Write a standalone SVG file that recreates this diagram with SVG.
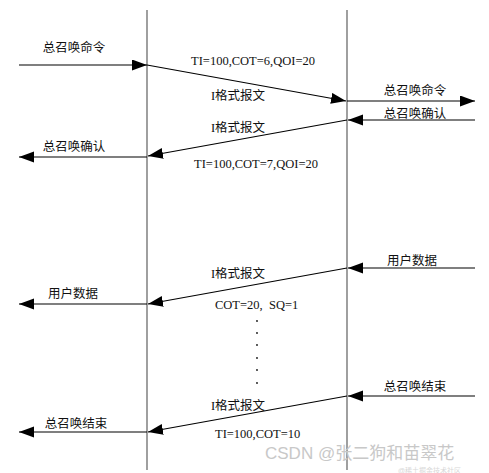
<svg xmlns="http://www.w3.org/2000/svg" width="489" height="473" viewBox="0 0 489 473">
<defs>
<marker id="ah" markerUnits="userSpaceOnUse" markerWidth="16" markerHeight="12" refX="15" refY="5.5" orient="auto">
<path d="M0,0 L15,5.5 L0,11 Z" fill="#000"/>
</marker>
<style>
.lane{stroke:#888;stroke-width:1.6;fill:none}
.msg{stroke:#000;stroke-width:1.1;fill:none;marker-end:url(#ah)}
.t{font-family:"Liberation Serif","Noto Sans CJK SC",serif;font-size:12.5px;fill:#111}
.c{text-anchor:middle}
.dot{fill:#111}
.wm{font-family:"Liberation Sans","Noto Sans CJK SC",sans-serif;font-size:17px;fill:#c8c8c8}
</style>
</defs>
<rect width="489" height="473" fill="#fff"/>
<g id="lanes">
<line class="lane" x1="147" y1="10" x2="147" y2="470"/>
<line class="lane" x1="347" y1="10" x2="347" y2="470"/>
</g>
<g id="connectors">
<line class="msg" x1="19" y1="65" x2="147" y2="65"/>
<line class="msg" x1="147" y1="65" x2="346" y2="101"/>
<line class="msg" x1="347" y1="101" x2="475" y2="101"/>
<line class="msg" x1="475" y1="120" x2="348" y2="120"/>
<line class="msg" x1="347" y1="120" x2="148" y2="156"/>
<line class="msg" x1="147" y1="157" x2="19" y2="157"/>
<line class="msg" x1="475" y1="268" x2="348" y2="268"/>
<line class="msg" x1="347" y1="268" x2="148" y2="304"/>
<line class="msg" x1="147" y1="304" x2="19" y2="304"/>
<line class="msg" x1="475" y1="396" x2="348" y2="396"/>
<line class="msg" x1="347" y1="396" x2="148" y2="432"/>
<line class="msg" x1="147" y1="432" x2="19" y2="432"/>
</g>
<g id="n1"><text class="t c" x="74" y="52">总召唤命令</text></g>
<g id="n2"><text class="t c" x="253" y="64.5">TI=100,COT=6,QOI=20</text></g>
<g id="n3"><text class="t c" x="238" y="99.5">I格式报文</text></g>
<g id="n4"><text class="t c" x="415" y="94.5">总召唤命令</text></g>
<g id="n5"><text class="t c" x="415" y="117.5">总召唤确认</text></g>
<g id="n6"><text class="t c" x="238" y="131.5">I格式报文</text></g>
<g id="n7"><text class="t c" x="74" y="150.5">总召唤确认</text></g>
<g id="n8"><text class="t c" x="256" y="167.5">TI=100,COT=7,QOI=20</text></g>
<g id="n9"><text class="t c" x="412" y="264.5">用户数据</text></g>
<g id="n10"><text class="t c" x="238" y="277.5">I格式报文</text></g>
<g id="n11"><text class="t c" x="73" y="297.5">用户数据</text></g>
<g id="n12"><text class="t" x="215" y="308.5" xml:space="preserve">COT=20,  SQ=1</text></g>
<g id="dots">
<circle class="dot" cx="257" cy="321" r="0.9"/>
<circle class="dot" cx="257" cy="333" r="0.9"/>
<circle class="dot" cx="257" cy="345" r="0.9"/>
<circle class="dot" cx="257" cy="358" r="0.9"/>
<circle class="dot" cx="257" cy="370" r="0.9"/>
<circle class="dot" cx="257" cy="383" r="0.9"/>
</g>
<g id="n13"><text class="t c" x="415" y="390.5">总召唤结束</text></g>
<g id="n14"><text class="t c" x="238" y="409.5">I格式报文</text></g>
<g id="n15"><text class="t c" x="76" y="427.5">总召唤结束</text></g>
<g id="n16"><text class="t" x="215" y="437.5">TI=100,COT=10</text></g>
<g id="watermark">
<text class="wm" x="265" y="459">CSDN @张二狗和苗翠花</text>
<text x="398" y="472.5" style="font-family:'Liberation Sans','Noto Sans CJK SC',sans-serif;font-size:7px;fill:#d8d8d8">@稀土掘金技术社区</text>
</g>
</svg>
